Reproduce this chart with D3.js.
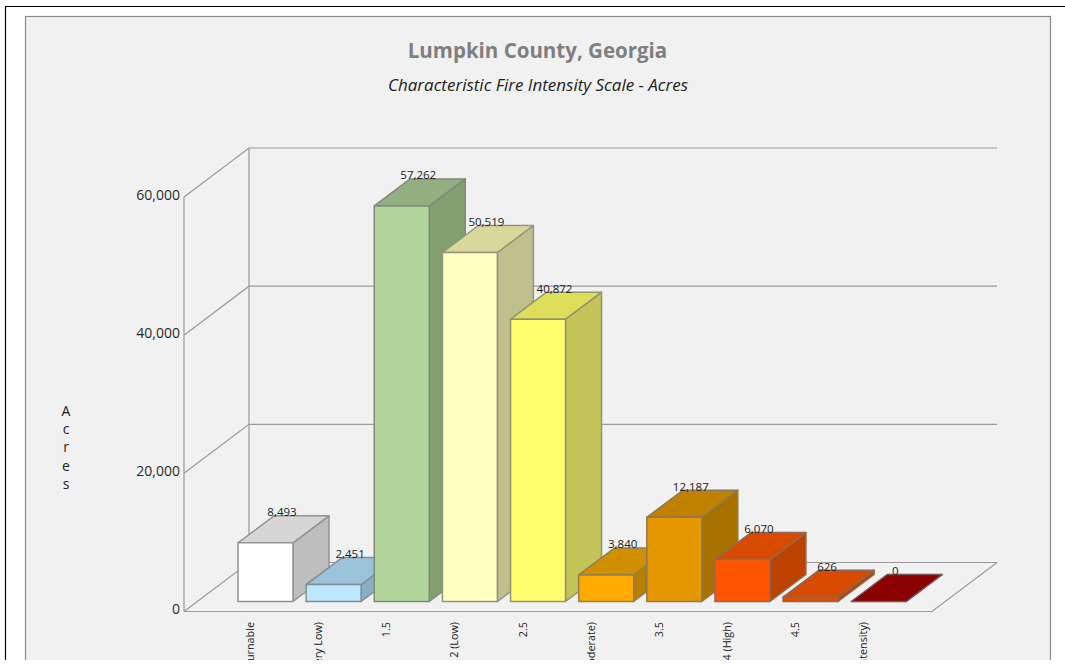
<!DOCTYPE html>
<html><head><meta charset="utf-8">
<script src="https://cdnjs.cloudflare.com/ajax/libs/d3/7.8.5/d3.min.js"></script>
<style>
html,body{margin:0;padding:0;background:#fff;overflow:hidden}
svg{display:block}
text{font-family:"Open Sans","Noto Sans",sans-serif}
</style></head><body>
<svg id="c" width="1065" height="664"></svg>
<script>
const categories=["Non-Burnable","1 (Very Low)","1.5","2 (Low)","2.5","3 (Moderate)","3.5","4 (High)","4.5","5 (Very High Intensity)"];
const acres=[8493,2451,57262,50519,40872,3840,12187,6070,626,0];
const tickValues=[0,20000,40000,60000];
const frontColors=["#ffffff","#bde6ff","#b2d69c","#ffffc0","#ffff6e","#ffaa00","#e69800","#ff5500","#e04f00","#8b0000"];
const topColors=["#d6d6d6","#9bc3da","#93ae80","#d8d89c","#dede5a","#d08f00","#c08000","#d84a00","#d84a00","#8b0000"];
const sideColors=["#bebebe","#8aafc5","#83a071","#c0c08c","#c4c45a","#b88000","#a87200","#bc4200","#bc4200","#7a0000"];
const axisTitle=["A","c","r","e","s"];

const svg=d3.select("#c");
const clipId="panelClip";
svg.append("defs").append("clipPath").attr("id",clipId).append("rect")
  .attr("x",0).attr("y",0).attr("width",1065).attr("height",660);
const root=svg.append("g").attr("clip-path",`url(#${clipId})`);

// Frame
root.append("path").attr("d","M5.5,668V6.5H1065").attr("fill","none").attr("stroke","#000").attr("stroke-width",1.2);
root.append("rect").attr("x",25.5).attr("y",16.5).attr("width",1025).attr("height",660)
  .attr("fill","#f1f1f1").attr("stroke","#8a8a8a").attr("stroke-width",1.2);

root.append("text").attr("x",537.5).attr("y",58).attr("text-anchor","middle")
  .attr("font-size",20.5).attr("font-weight",700).attr("fill","#7f7f7f").text("Lumpkin County, Georgia");
root.append("text").attr("x",538).attr("y",91).attr("text-anchor","middle")
  .attr("font-size",17).attr("font-style","italic").attr("fill","#222").text("Characteristic Fire Intensity Scale - Acres");

// Scales
const yScale=d3.scaleLinear().domain([0,60000]).range([611.5,197]);
const xScale=d3.scaleBand().domain(categories).range([238,906.2]).paddingInner(0.193).paddingOuter(0);
const wallDx=65,wallDy=-49,barDx=36,barDy=-27,insetDy=-10;
const wallRight=932;

// Walls and grid
const wall=root.append("g").attr("fill","none").attr("stroke","#9a9a9a").attr("stroke-width",1.2);
wall.selectAll("path.grid").data(tickValues).join("path").attr("class","grid")
  .attr("d",v=>`M${184},${yScale(v)}L${184+wallDx},${yScale(v)+wallDy}H${wallRight+wallDx}`);
wall.append("path").attr("d",`M184,${yScale(0)}V${yScale(60000)}`);
wall.append("path").attr("d",`M${184+wallDx},${yScale(0)+wallDy}V${yScale(60000)+wallDy}`);
wall.append("path").attr("d",`M184,${yScale(0)}H${wallRight}L${wallRight+wallDx},${yScale(0)+wallDy}`);

// Y axis tick labels through d3 axis
const ax=root.append("g").attr("transform","translate(184,-2)")
  .call(d3.axisLeft(yScale).tickValues(tickValues).tickSize(0).tickPadding(4).tickFormat(d3.format(",")));
ax.select(".domain").remove();
ax.selectAll("text").attr("font-size",14).attr("font-family",'"Open Sans","Noto Sans",sans-serif').attr("fill","#2b2b2b");

// Axis title
root.append("g").selectAll("text").data(axisTitle).join("text")
  .attr("x",66).attr("y",(d,i)=>416+i*18.2).attr("text-anchor","middle")
  .attr("font-size",14).attr("fill","#222").text(d=>d);

// Bars
const bars=root.append("g").selectAll("g").data(categories).join("g")
  .attr("stroke-width",1.5).attr("stroke-linejoin","round");
const bl=d=>xScale(d);
const br=d=>xScale(d)+xScale.bandwidth();
const barBase=yScale(0)+insetDy;
const barTop=i=>barBase-(yScale(0)-yScale(acres[i]));
const edge=i=>d3.interpolateRgb(frontColors[i],"#6f6f6f")(0.75);
bars.append("path").attr("fill",(d,i)=>sideColors[i]).attr("stroke",(d,i)=>edge(i))
  .attr("d",(d,i)=>`M${br(d)},${barBase}V${barTop(i)}l${barDx},${barDy}V${barBase+barDy}Z`);
bars.append("path").attr("fill",(d,i)=>topColors[i]).attr("stroke",(d,i)=>edge(i))
  .attr("d",(d,i)=>`M${bl(d)},${barTop(i)}H${br(d)}l${barDx},${barDy}H${bl(d)+barDx}Z`);
bars.append("rect").attr("fill",(d,i)=>frontColors[i]).attr("stroke",(d,i)=>edge(i))
  .attr("x",d=>bl(d)).attr("y",(d,i)=>barTop(i)).attr("width",xScale.bandwidth()).attr("height",(d,i)=>barBase-barTop(i));

// Value labels
root.append("g").selectAll("text").data(categories).join("text")
  .attr("x",d=>bl(d)+xScale.bandwidth()/2+barDx/2-1.5)
  .attr("y",(d,i)=>barTop(i)+barDy+0.5).attr("text-anchor","middle")
  .attr("font-size",11.5).attr("fill","#1a1a1a").text((d,i)=>d3.format(",")(acres[i]));

// Category labels (cut off by the bottom of the picture)
root.append("g").selectAll("text").data(categories).join("text")
  .attr("transform",d=>`translate(${bl(d)+xScale.bandwidth()/2-11.5},622) rotate(-90)`)
  .attr("text-anchor","end").attr("font-size",10.8).attr("fill","#222").text(d=>d);
</script>
</body></html>
